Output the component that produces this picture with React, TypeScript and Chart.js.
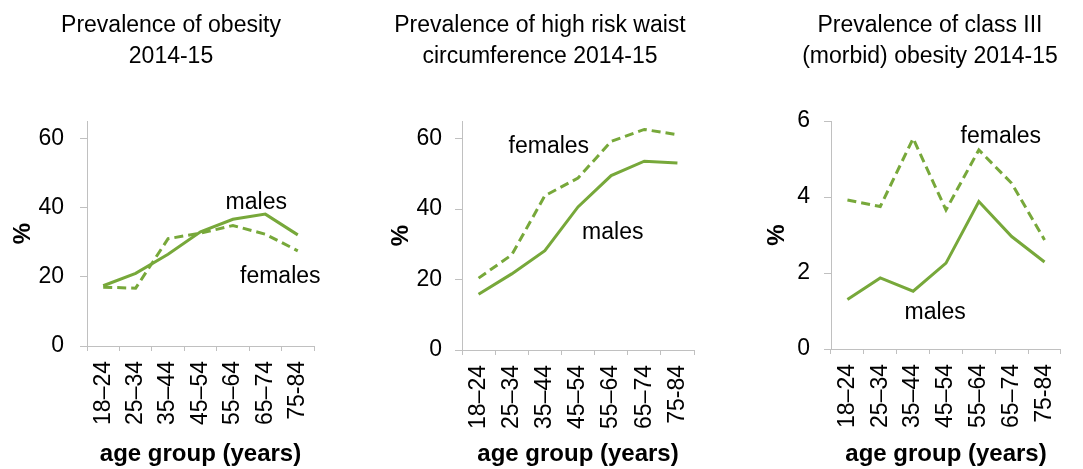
import React, { useEffect, useRef } from "react";
import { Chart, registerables } from "chart.js";

Chart.register(...registerables);

// ---------- data ----------
const ageGroups = ["18–24", "25–34", "35–44", "45–54", "55–64", "65–74", "75-84"];

const obesityMales = [17.4, 21.0, 26.5, 33.0, 36.6, 38.1, 32.1];
const obesityFemales = [17.0, 16.7, 31.0, 32.6, 34.8, 32.3, 27.5];

const waistMales = [15.8, 21.6, 28.2, 40.6, 49.5, 53.6, 53.1];
const waistFemales = [20.4, 27.0, 43.8, 48.8, 59.2, 62.6, 61.1];

const morbidMales = [1.3, 1.87, 1.52, 2.26, 3.88, 2.96, 2.29];
const morbidFemales = [3.92, 3.75, 5.54, 3.66, 5.24, 4.36, 2.87];

const percentTicks = [0, 20, 40, 60];
const morbidTicks = [0, 2, 4, 6];

const obesityTitle = ["Prevalence of obesity", "2014-15"];
const waistTitle = ["Prevalence of high risk waist", "circumference 2014-15"];
const morbidTitle = ["Prevalence of class III", "(morbid) obesity 2014-15"];

// series labels placed in data coordinates: [category index, value]
const obesityLabels = [
  { text: "males", x: 4.72, y: 41.5 },
  { text: "females", x: 5.46, y: 19.9 },
];
const waistLabels = [
  { text: "females", x: 2.12, y: 57.7 },
  { text: "males", x: 4.05, y: 33.3 },
];
const morbidLabels = [
  { text: "females", x: 4.67, y: 5.6 },
  { text: "males", x: 2.67, y: 0.95 },
];

const xAxisTitle = "age group (years)";
const yAxisTitle = "%";

// ---------- styles ----------
const GREEN = "#77a83a";
const AXIS = "#c0c0c0";
const FONT = "'Liberation Sans', Arial, sans-serif";
const H = 469;

interface PanelSpec {
  left: number;
  width: number;
  titleX: number;
  title: string[];
  males: number[];
  females: number[];
  yMax: number;
  yTicks: number[];
  labels: { text: string; x: number; y: number }[];
  yAxisWidth: number;
  yTickPad: number;
  yTitlePad: number;
  padRight: number;
  chartTop: number;
  chartBottom: number;
}

const panels: PanelSpec[] = [
  {
    left: 0, width: 345, titleX: 171, title: obesityTitle,
    males: obesityMales, females: obesityFemales, yMax: 65, yTicks: percentTicks,
    labels: obesityLabels, yAxisWidth: 87, yTickPad: 16, yTitlePad: 9,
    padRight: 31, chartTop: 121, chartBottom: 346,
  },
  {
    left: 362, width: 356, titleX: 178, title: waistTitle,
    males: waistMales, females: waistFemales, yMax: 65, yTicks: percentTicks,
    labels: waistLabels, yAxisWidth: 100, yTickPad: 13, yTitlePad: 25,
    padRight: 24, chartTop: 121, chartBottom: 350,
  },
  {
    left: 760, width: 323, titleX: 170, title: morbidTitle,
    males: morbidMales, females: morbidFemales, yMax: 6, yTicks: morbidTicks,
    labels: morbidLabels, yAxisWidth: 71, yTickPad: 14, yTitlePad: 3,
    padRight: 12, chartTop: 121, chartBottom: 349,
  },
];

function Panel({ spec }: { spec: PanelSpec }) {
  const ref = useRef<HTMLCanvasElement | null>(null);

  useEffect(() => {
    if (!ref.current) return;

    const titlePlugin = {
      id: "panelTitle",
      afterDraw(chart: any) {
        const ctx = chart.ctx;
        ctx.save();
        ctx.fillStyle = "#000";
        ctx.font = `23px ${FONT}`;
        ctx.textAlign = "center";
        ctx.textBaseline = "alphabetic";
        spec.title.forEach((line, i) => {
          ctx.fillText(line, spec.titleX, 32 + i * 31);
        });
        ctx.restore();
      },
    };

    const labelPlugin = {
      id: "seriesLabels",
      afterDatasetsDraw(chart: any) {
        const ctx = chart.ctx;
        const xs = chart.scales.x;
        const ys = chart.scales.y;
        ctx.save();
        ctx.fillStyle = "#000";
        ctx.font = `23px ${FONT}`;
        ctx.textAlign = "center";
        ctx.textBaseline = "middle";
        spec.labels.forEach((l) => {
          ctx.fillText(l.text, xs.getPixelForValue(l.x), ys.getPixelForValue(l.y));
        });
        ctx.restore();
      },
    };

    const chart = new Chart(ref.current, {
      type: "line",
      data: {
        labels: ageGroups,
        datasets: [
          {
            label: "males",
            data: spec.males,
            borderColor: GREEN,
            borderWidth: 3,
            pointRadius: 0,
            tension: 0,
            fill: false,
          },
          {
            label: "females",
            data: spec.females,
            borderColor: GREEN,
            borderWidth: 3,
            borderDash: [9, 5],
            pointRadius: 0,
            tension: 0,
            fill: false,
          },
        ],
      },
      options: {
        responsive: false,
        animation: false,
        events: [],
        layout: {
          padding: { left: 0, right: spec.padRight, top: spec.chartTop, bottom: 0 },
        },
        plugins: {
          legend: { display: false },
          tooltip: { enabled: false },
          title: { display: false },
        },
        scales: {
          x: {
            type: "category",
            offset: true,
            grid: {
              display: true,
              offset: true,
              drawOnChartArea: false,
              drawTicks: true,
              tickLength: 5,
              color: AXIS,
            },
            border: { display: true, color: AXIS, width: 1 },
            ticks: {
              autoSkip: false,
              maxRotation: 90,
              minRotation: 90,
              padding: 10,
              color: "#000",
              font: { family: FONT, size: 23 },
            },
            title: {
              display: true,
              text: xAxisTitle,
              color: "#000",
              padding: { top: 0, bottom: 0 },
              font: { family: FONT, size: 24, weight: "bold" },
            },
            afterFit: (scale: any) => {
              scale.height = H - spec.chartBottom;
            },
          },
          y: {
            type: "linear",
            min: 0,
            max: spec.yMax,
            grid: {
              display: true,
              drawOnChartArea: false,
              drawTicks: true,
              tickLength: 7,
              color: AXIS,
            },
            border: { display: true, color: AXIS, width: 1 },
            ticks: {
              padding: spec.yTickPad,
              color: "#000",
              font: { family: FONT, size: 23 },
            },
            afterBuildTicks: (scale: any) => {
              scale.ticks = spec.yTicks.map((v) => ({ value: v }));
            },
            title: {
              display: true,
              text: yAxisTitle,
              color: "#000",
              padding: { top: spec.yTitlePad, bottom: 0 },
              font: { family: FONT, size: 24, weight: "bold" },
            },
            afterFit: (scale: any) => {
              scale.width = spec.yAxisWidth;
            },
          },
        },
      } as any,
      plugins: [titlePlugin, labelPlugin],
    });

    return () => chart.destroy();
  }, [spec]);

  return (
    <canvas
      ref={ref}
      width={spec.width}
      height={H}
      style={{ position: "absolute", left: spec.left, top: 0, width: spec.width, height: H }}
    />
  );
}

export default function App() {
  return (
    <div
      style={{
        position: "absolute",
        left: 0,
        top: 0,
        width: 1083,
        height: H,
        overflow: "hidden",
        background: "#fff",
      }}
    >
      {panels.map((p, i) => (
        <Panel key={i} spec={p} />
      ))}
    </div>
  );
}
